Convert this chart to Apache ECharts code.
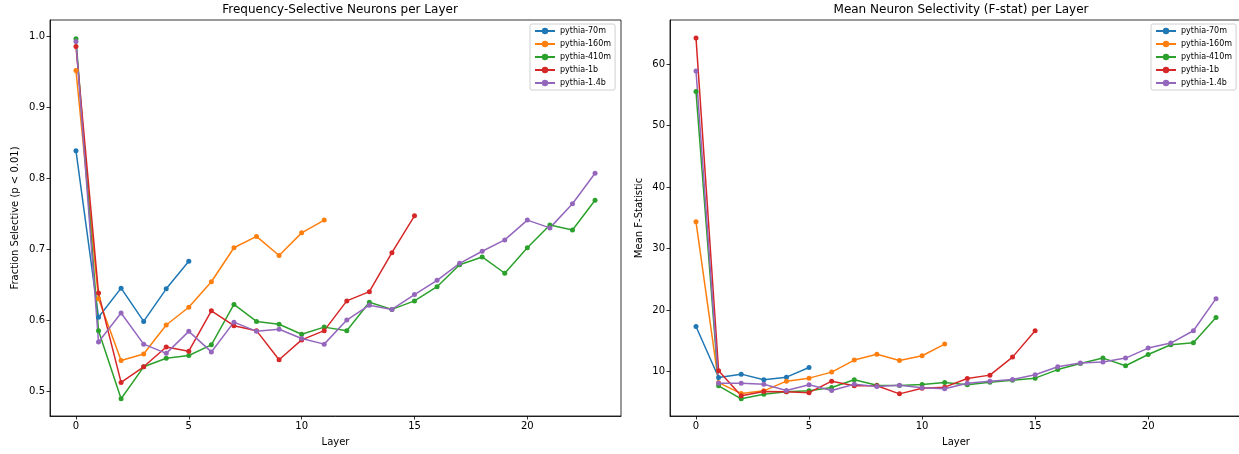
<!DOCTYPE html>
<html>
<head>
<meta charset="utf-8">
<script src="https://cdn.jsdelivr.net/npm/echarts@6/dist/echarts.min.js"></script>
<style>
  html, body { margin: 0; padding: 0; background: #fff; }
  #chart { width: 1239px; height: 454px; }
</style>
</head>
<body>
<div id="chart"></div>
<script>
// model names and layer values
const models = ["pythia-70m", "pythia-160m", "pythia-410m", "pythia-1b", "pythia-1.4b"];
const colors = ["#1f77b4", "#ff7f0e", "#2ca02c", "#d62728", "#9467bd"];

// fraction selective (p < 0.01), index = layer
const frac70m = [0.839, 0.604, 0.645, 0.598, 0.644, 0.683];
const frac160m = [0.952, 0.630, 0.543, 0.552, 0.593, 0.618, 0.654, 0.702, 0.718, 0.691, 0.723, 0.741];
const frac410m = [0.997, 0.585, 0.489, 0.534, 0.546, 0.550, 0.565, 0.622, 0.598, 0.594, 0.580, 0.590,
  0.585, 0.625, 0.615, 0.627, 0.647, 0.678, 0.689, 0.666, 0.702, 0.734, 0.727, 0.769];
const frac1b = [0.986, 0.638, 0.512, 0.534, 0.562, 0.556, 0.613, 0.592, 0.585, 0.544, 0.572, 0.585,
  0.627, 0.640, 0.695, 0.747];
const frac1_4b = [0.993, 0.569, 0.610, 0.566, 0.553, 0.584, 0.555, 0.597, 0.584, 0.587, 0.574, 0.566,
  0.600, 0.621, 0.615, 0.636, 0.656, 0.680, 0.697, 0.713, 0.741, 0.730, 0.764, 0.807];

// mean F-statistic, index = layer
const fstat70m = [17.34, 9.03, 9.58, 8.66, 9.09, 10.66];
const fstat160m = [34.36, 8.2, 6.42, 6.86, 8.44, 8.93, 9.91, 11.87, 12.81, 11.8, 12.57, 14.47];
const fstat410m = [55.55, 7.68, 5.56, 6.32, 6.70, 6.86, 7.40, 8.66, 7.79, 7.73, 7.89, 8.22,
  7.84, 8.28, 8.6, 8.93, 10.32, 11.31, 12.19, 10.94, 12.78, 14.36, 14.69, 18.81];
const fstat1b = [64.29, 10.12, 6.05, 6.75, 6.70, 6.57, 8.44, 7.68, 7.68, 6.37, 7.30, 7.46,
  8.87, 9.42, 12.35, 16.64];
const fstat1_4b = [58.9, 8.1, 8.1, 7.95, 6.91, 7.84, 6.91, 7.95, 7.57, 7.79, 7.35, 7.19,
  8.1, 8.44, 8.7, 9.47, 10.77, 11.38, 11.54, 12.19, 13.82, 14.64, 16.64, 21.86];

const fracData = [frac70m, frac160m, frac410m, frac1b, frac1_4b];
const fstatData = [fstat70m, fstat160m, fstat410m, fstat1b, fstat1_4b];

const layerTicks = [0, 5, 10, 15, 20];
const fracTicks = [0.5, 0.6, 0.7, 0.8, 0.9, 1.0];
const fstatTicks = [10, 20, 30, 40, 50, 60];

const font = "DejaVu Sans";

function xAxisFor(grid) {
  return {
    type: "value", gridIndex: grid, min: -1.15, max: 24.15,
    name: "Layer", nameLocation: "middle", nameGap: 21,
    nameTextStyle: { fontFamily: font, fontSize: 10, color: "#000" },
    axisLine: { show: true, onZero: false, lineStyle: { color: "#000", width: 0.8 } },
    axisTick: { show: true, length: 3.5, lineStyle: { color: "#000", width: 0.8 }, customValues: layerTicks },
    axisLabel: { fontFamily: font, fontSize: 10, color: "#000", margin: 5, customValues: layerTicks },
    splitLine: { show: false }
  };
}

function yAxisFor(grid, name, min, max, ticks, digits, gap) {
  return {
    type: "value", gridIndex: grid, min: min, max: max,
    name: name, nameLocation: "middle", nameGap: gap, nameRotate: 90,
    nameTextStyle: { fontFamily: font, fontSize: 10, color: "#000" },
    axisLine: { show: true, onZero: false, lineStyle: { color: "#000", width: 0.8 } },
    axisTick: { show: true, length: 3.5, lineStyle: { color: "#000", width: 0.8 }, customValues: ticks },
    axisLabel: {
      fontFamily: font, fontSize: 10, color: "#000", margin: 5, customValues: ticks,
      formatter: v => v.toFixed(digits)
    },
    splitLine: { show: false }
  };
}

const series = [];
models.forEach((m, i) => {
  series.push({
    name: m, type: "line", xAxisIndex: 0, yAxisIndex: 0,
    data: fracData[i].map((v, k) => [k, v]),
    symbol: "circle", symbolSize: 5, color: colors[i],
    lineStyle: { width: 1.5 }, animation: false
  });
  series.push({
    name: m, type: "line", xAxisIndex: 1, yAxisIndex: 1,
    data: fstatData[i].map((v, k) => [k, v]),
    symbol: "circle", symbolSize: 5, color: colors[i],
    lineStyle: { width: 1.5 }, animation: false
  });
});

const legendBase = {
  data: models, orient: "vertical", top: 24,
  itemWidth: 20, itemHeight: 8, itemGap: 5,
  textStyle: { fontFamily: font, fontSize: 8, color: "#000" },
  backgroundColor: "#fff", borderColor: "#d0d0d0", borderWidth: 1, borderRadius: 2,
  padding: [3, 4, 3, 4]
};

const chart = echarts.init(document.getElementById("chart"));
chart.setOption({
  backgroundColor: "#fff",
  animation: false,
  title: [
    { text: "Frequency-Selective Neurons per Layer", left: 335, top: -1, textAlign: "center",
      textStyle: { fontFamily: font, fontSize: 12, fontWeight: "normal", color: "#000" } },
    { text: "Mean Neuron Selectivity (F-stat) per Layer", left: 956, top: -1, textAlign: "center",
      textStyle: { fontFamily: font, fontSize: 12, fontWeight: "normal", color: "#000" } }
  ],
  legend: [
    Object.assign({}, legendBase, { left: 530 }),
    Object.assign({}, legendBase, { left: 1151 })
  ],
  grid: [
    { left: 50, top: 20, width: 571, height: 396, show: true, borderColor: "#000", borderWidth: 0.8,
      backgroundColor: "transparent", outerBoundsMode: "none" },
    { left: 670, top: 20, width: 572, height: 396, show: true, borderColor: "#000", borderWidth: 0.8,
      backgroundColor: "transparent", outerBoundsMode: "none" }
  ],
  xAxis: [xAxisFor(0), xAxisFor(1)],
  yAxis: [
    yAxisFor(0, "Fraction Selective (p < 0.01)", 0.4646, 1.0233, fracTicks, 1, 30),
    yAxisFor(1, "Mean F-Statistic", 2.77, 67.2, fstatTicks, 0, 26)
  ],
  series: series
});
</script>
</body>
</html>
